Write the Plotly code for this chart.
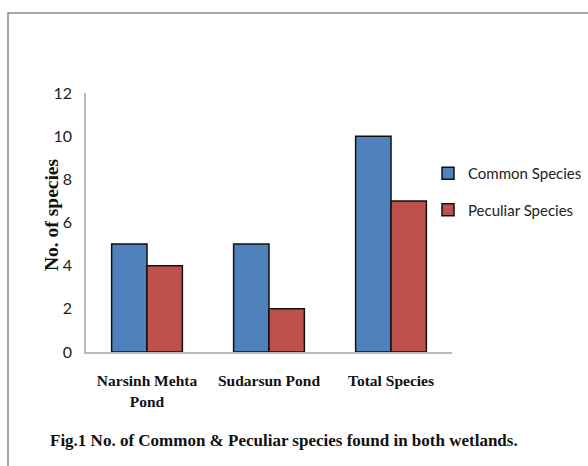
import plotly.graph_objects as go

categories = ["Narsinh Mehta<br>Pond", "Sudarsun Pond", "Total Species"]
common_species = [5, 5, 10]
peculiar_species = [4, 2, 7]
y_ticks = [0, 2, 4, 6, 8, 10, 12]

W, H = 588, 466
L, R, T, B = 86, 136, 93, 114
pw, ph = W - L - R, H - T - B

def px_x(x):
    return (x - L) / pw

def px_y(y):
    return (H - B - y) / ph

fig = go.Figure()
fig.add_trace(go.Bar(
    x=categories, y=common_species, name="Common Species",
    marker=dict(color="#4F81BD", line=dict(color="#111111", width=1.5)),
    legendgroup="a",
))
fig.add_trace(go.Bar(
    x=categories, y=peculiar_species, name="Peculiar Species",
    marker=dict(color="#C0504D", line=dict(color="#111111", width=1.5)),
    legendgroup="b",
))

fig.update_layout(
    width=W, height=H,
    margin=dict(l=L, r=R, t=T, b=B, autoexpand=False),
    paper_bgcolor="white", plot_bgcolor="white",
    barmode="group", bargap=0.42, bargroupgap=0,
    showlegend=True,
    legend=dict(
        x=px_x(428), y=px_y(157), xanchor="left", yanchor="top",
        font=dict(family="Lato", size=15, color="#222222"),
        traceorder="grouped", tracegroupgap=14, itemwidth=30,
        bgcolor="rgba(0,0,0,0)",
    ),
    xaxis=dict(
        showline=True, linecolor="#BBBBBB", linewidth=1.5,
        showgrid=False, ticks="", ticklabelstandoff=14,
        tickfont=dict(family="Liberation Serif", size=15.5, color="#111111",
                      weight="bold"),
    ),
    yaxis=dict(
        range=[0, 12], tickvals=y_ticks,
        showline=True, linecolor="#BBBBBB", linewidth=1.5,
        showgrid=False, zeroline=False, ticks="", ticklabelstandoff=9,
        tickfont=dict(family="Lato", size=16, color="#222222"),
    ),
    shapes=[dict(
        type="rect", xref="paper", yref="paper",
        x0=px_x(8), x1=px_x(620), y0=px_y(500), y1=px_y(13),
        line=dict(color="#888888", width=1.5), fillcolor="rgba(0,0,0,0)",
        layer="below",
    )],
    annotations=[
        dict(text="<b>No. of species</b>", xref="paper", yref="paper",
             x=px_x(51), y=px_y(215), textangle=-90, showarrow=False,
             xanchor="center", yanchor="middle",
             font=dict(family="Liberation Serif", size=19.5, color="#111111")),
        dict(text="<b>Fig.1 No. of Common &amp; Peculiar species found in both wetlands.</b>",
             xref="paper", yref="paper",
             x=px_x(284), y=px_y(440), showarrow=False,
             xanchor="center", yanchor="middle",
             font=dict(family="Liberation Serif", size=17, color="#111111")),
    ],
)

fig.write_html("out.html",
               config={"displayModeBar": False},
               post_script="document.body.style.margin='0';document.body.style.overflow='hidden';")
